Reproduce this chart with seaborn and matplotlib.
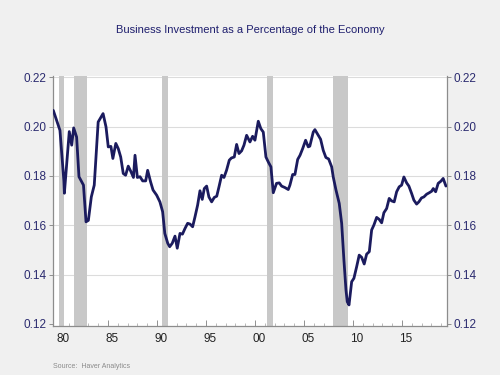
import pandas as pd
import seaborn as sns
import matplotlib.pyplot as plt
from matplotlib.transforms import ScaledTranslation

# values (fractional year, share of economy)
years = [1979.42, 1979.93, 1980.10, 1980.50, 1980.55, 1981.05, 1981.30, 1981.50, 1981.80,
         1982.04, 1982.50, 1982.76, 1983.00, 1983.30, 1983.60, 1984.00, 1984.50, 1984.80,
         1985.03, 1985.30, 1985.50, 1985.80, 1986.05, 1986.30, 1986.56, 1986.80, 1987.07,
         1987.35, 1987.60, 1987.76, 1988.00, 1988.27, 1988.54, 1988.85, 1989.05, 1989.35,
         1989.60, 1989.97, 1990.30, 1990.58, 1990.80, 1991.10, 1991.30, 1991.56, 1991.84,
         1992.07, 1992.35, 1992.60, 1992.86, 1993.13, 1993.37, 1993.64, 1993.88, 1994.15,
         1994.39, 1994.62, 1994.83, 1995.07, 1995.30, 1995.58, 1995.85, 1996.10, 1996.33,
         1996.60, 1996.84, 1997.10, 1997.38, 1997.60, 1997.89, 1998.13, 1998.37, 1998.64,
         1998.88, 1999.15, 1999.49, 1999.76, 2000.00, 2000.34, 2000.60, 2000.85, 2001.12,
         2001.36, 2001.63, 2001.87, 2002.20, 2002.48, 2002.72, 2003.06, 2003.40, 2003.57,
         2003.85, 2004.08, 2004.36, 2004.60, 2004.87, 2005.17, 2005.44, 2005.60, 2005.95,
         2006.12, 2006.46, 2006.70, 2006.97, 2007.24, 2007.52, 2007.83, 2007.99, 2008.27,
         2008.60, 2008.85, 2009.08, 2009.29, 2009.42, 2009.60, 2009.87, 2010.10, 2010.38,
         2010.64, 2010.89, 2011.15, 2011.40, 2011.67, 2011.91, 2012.14, 2012.42, 2012.68,
         2012.93, 2013.16, 2013.44, 2013.70, 2013.94, 2014.21, 2014.46, 2014.72, 2014.97,
         2015.20, 2015.48, 2015.71, 2015.99, 2016.22, 2016.50, 2016.73, 2017.00, 2017.24,
         2017.52, 2017.79, 2018.03, 2018.20, 2018.44, 2018.70, 2018.98, 2019.21, 2019.49]
share = [0.2066, 0.2006, 0.1985, 0.1780, 0.1730, 0.1980, 0.1925, 0.1995, 0.1958,
         0.1797, 0.1763, 0.1614, 0.1620, 0.1715, 0.1763, 0.2019, 0.2053, 0.1999,
         0.1918, 0.1920, 0.1871, 0.1932, 0.1911, 0.1877, 0.1810, 0.1803, 0.1840,
         0.1817, 0.1794, 0.1884, 0.1794, 0.1797, 0.1780, 0.1780, 0.1823, 0.1776,
         0.1743, 0.1722, 0.1695, 0.1655, 0.1567, 0.1527, 0.1513, 0.1527, 0.1556,
         0.1507, 0.1567, 0.1564, 0.1587, 0.1608, 0.1605, 0.1594, 0.1634, 0.1682,
         0.1740, 0.1705, 0.1749, 0.1759, 0.1715, 0.1695, 0.1713, 0.1718, 0.1756,
         0.1803, 0.1794, 0.1823, 0.1864, 0.1873, 0.1877, 0.1928, 0.1891, 0.1902,
         0.1925, 0.1965, 0.1938, 0.1961, 0.1945, 0.2022, 0.1992, 0.1978, 0.1877,
         0.1857, 0.1837, 0.1732, 0.1770, 0.1772, 0.1759, 0.1753, 0.1745, 0.1763,
         0.1806, 0.1806, 0.1867, 0.1884, 0.1911, 0.1945, 0.1918, 0.1921, 0.1978,
         0.1988, 0.1965, 0.1949, 0.1904, 0.1875, 0.1869, 0.1837, 0.1796, 0.1743,
         0.1689, 0.1608, 0.1459, 0.1338, 0.1290, 0.1277, 0.1371, 0.1385, 0.1432,
         0.1479, 0.1470, 0.1443, 0.1483, 0.1493, 0.1581, 0.1601, 0.1632, 0.1624,
         0.1610, 0.1651, 0.1668, 0.1709, 0.1699, 0.1695, 0.1736, 0.1756, 0.1763,
         0.1796, 0.1772, 0.1759, 0.1729, 0.1702, 0.1686, 0.1695, 0.1711, 0.1715,
         0.1726, 0.1732, 0.1738, 0.1749, 0.1736, 0.1770, 0.1779, 0.1790, 0.1759]

# recession shading (start, end)
rec_start = [1980.0, 1981.5, 1990.5, 2001.2, 2008.0]
rec_end = [1980.5, 1982.9, 1991.15, 2001.85, 2009.5]

tick_years = [1980, 1985, 1990, 1995, 2000, 2005, 2010, 2015]
tick_labels = ['80', '85', '90', '95', '00', '05', '10', '15']
y_ticks = [0.12, 0.14, 0.16, 0.18, 0.20, 0.22]

navy = '#1b1b5e'
label_col = '#2b2b70'

sns.set_style("white")
plt.rcParams['font.family'] = ['Liberation Sans', 'DejaVu Sans']

df = pd.DataFrame({'year': years, 'share': share})

fig = plt.figure(figsize=(5, 3.75), dpi=100, facecolor='#f0f0f0')
ax = fig.add_axes([0.106, 0.131, 0.788, 0.666])
ax.set_facecolor('white')

for s, e in zip(rec_start, rec_end):
    ax.axvspan(s, e, color='#c8c8c8', lw=0, zorder=1)

for yv in y_ticks[1:-1]:
    ax.axhline(yv, color='#dcdcdc', lw=0.8, zorder=0.5)
ax.axhline(0.22, color='#dcdcdc', lw=0.8, zorder=0.5)

sns.lineplot(data=df, x='year', y='share', ax=ax, color=navy, lw=2, zorder=3)

ax.set_xlim(1979.39, 2019.6)
ax.set_ylim(0.1192, 0.2205)
ax.set_xlabel('')
ax.set_ylabel('')

ax.set_yticks(y_ticks)
ax.set_yticklabels([f'{v:.2f}' for v in y_ticks])
ax.tick_params(axis='y', labelleft=True, labelright=True, left=True, right=True,
               length=3, width=0.6, color='#808080', labelsize=8.5,
               labelcolor=label_col, pad=1.5, direction='out')

ax.set_xticks(tick_years)
ax.set_xticklabels(tick_labels)
ax.set_xticks(range(1980, 2020), minor=True)
ax.tick_params(axis='x', which='major', bottom=True, length=4, width=0.6,
               color='#808080', direction='in', labelsize=8.5,
               labelcolor='#222222', pad=5)
ax.tick_params(axis='x', which='minor', bottom=True, length=2, width=0.5,
               color='#a0a0a0', direction='in')
shift = ScaledTranslation(0.04, 0, fig.dpi_scale_trans)
for lab in ax.get_xticklabels():
    lab.set_transform(lab.get_transform() + shift)

for side in ['left', 'right', 'bottom']:
    ax.spines[side].set_visible(True)
    ax.spines[side].set_color('#8c8c8c')
    ax.spines[side].set_linewidth(0.9)
ax.spines['top'].set_visible(False)

fig.text(0.5, 0.92, 'Business Investment as a Percentage of the Economy',
         ha='center', va='center', fontsize=8, color='#1f1f6e')
fig.text(0.106, 0.012, 'Source:  Haver Analytics', ha='left', va='bottom',
         fontsize=5, color='#8a8a8a')

plt.savefig('out.png', dpi=100, facecolor=fig.get_facecolor())
